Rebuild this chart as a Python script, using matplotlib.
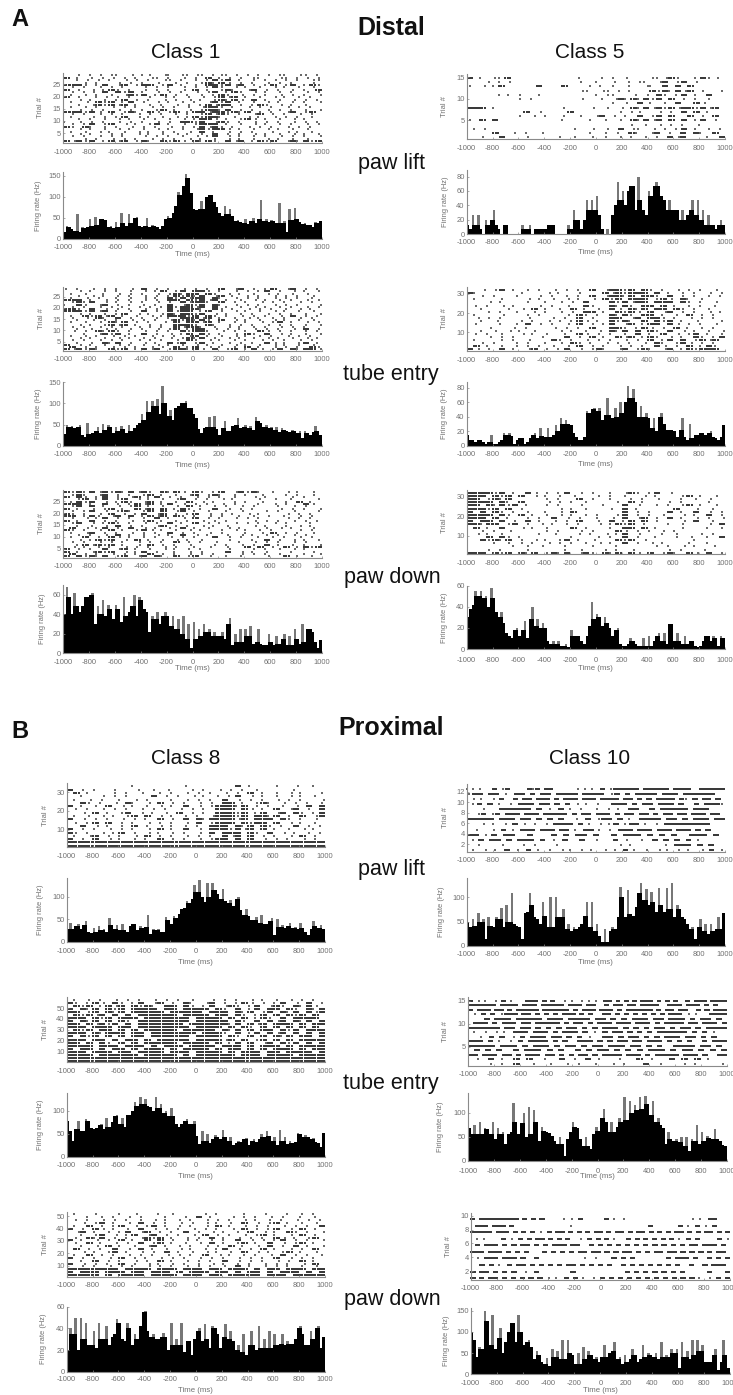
import numpy as np
import matplotlib
matplotlib.use("Agg")
import matplotlib.pyplot as plt

plt.rcParams['font.family'] = ['Liberation Sans', 'DejaVu Sans']
plt.rcParams['axes.unicode_minus'] = False

W, H = 733, 1395
EDGES = np.arange(-1000, 1000, 20)
X_TICKS = [-1000, -800, -600, -400, -200, 0, 200, 400, 600, 800, 1000]

# ---- firing rate (Hz), 20 ms bins ----
H_A1_LIFT = [15,30,28,22,18,58,15,28,25,28, 48,30,52,32,48,48,45,28,30,25, 40,28,62,38,30,58,38,50,52,30,
             28,30,50,28,32,30,28,22,30,48, 55,50,62,78,112,105,125,155,145,110, 70,68,70,90,70,100,105,105,88,75,
             62,55,78,60,70,55,42,45,40,38, 48,35,42,50,38,48,92,42,48,40, 45,42,38,85,38,42,15,70,45,72,
             48,40,35,38,32,32,28,40,38,42]
H_A5_LIFT = [13,7,27,13,27,7,0,20,13,20, 33,13,7,0,13,13,0,0,0,0, 0,13,7,7,13,0,7,7,7,7,
             7,13,13,13,0,0,0,0,0,13, 7,33,20,20,7,20,47,33,47,33, 53,27,7,0,7,0,27,40,73,47,
             60,40,60,67,67,33,80,47,33,27, 60,53,67,73,67,53,47,33,47,33, 33,33,20,33,20,27,33,47,27,47,
             20,33,13,27,13,13,7,13,20,13]
H_A1_TUBE = [28,50,45,48,42,45,50,25,22,55, 28,30,35,45,30,52,38,50,45,30, 45,35,48,40,30,50,35,42,50,55,
             75,60,105,80,105,95,110,75,140,100, 70,85,60,90,95,100,100,105,90,90, 75,65,40,30,42,45,68,45,70,40,
             25,42,58,35,35,48,50,65,42,45, 50,42,48,38,68,58,55,45,50,42, 45,38,45,32,42,38,36,32,38,35,
             30,35,18,35,30,25,32,48,35,25]
H_A5_TUBE = [15,8,8,5,8,8,5,3,5,15, 3,3,5,8,17,15,17,13,3,8, 10,10,3,5,10,15,18,10,25,13,
             12,25,12,15,28,20,38,30,35,30, 28,18,12,8,8,12,48,45,50,52, 48,52,35,42,65,42,38,52,40,60,
             45,60,82,65,78,60,40,55,40,45, 38,25,38,20,40,45,30,22,22,22, 20,12,22,38,12,8,30,10,15,15,
             18,18,15,18,20,12,10,8,12,28]
H_A1_DOWN = [40,68,58,40,62,48,42,48,58,58, 60,62,30,48,40,55,38,50,45,35, 50,45,32,58,38,42,48,60,38,58,
             55,45,42,22,38,35,42,30,38,42, 38,28,38,25,35,20,38,15,30,5, 32,15,25,18,30,22,25,18,22,18,
             18,22,15,30,36,8,20,12,25,12, 25,18,28,10,12,25,10,8,8,20, 12,8,18,10,15,20,8,18,8,25,
             15,10,30,12,25,25,22,12,5,14]
H_A5_DOWN = [30,38,42,55,50,55,48,50,40,58, 48,35,30,35,25,15,12,10,18,20, 12,18,27,10,28,40,22,28,20,25,
             20,8,5,8,5,8,3,3,5,2, 18,12,12,12,8,5,12,22,45,28, 33,30,22,30,25,20,12,18,20,5,
             3,3,5,10,8,5,3,3,10,3, 12,3,8,12,15,8,15,5,24,24, 8,15,8,5,12,5,8,8,3,2,
             3,8,12,12,8,12,10,3,12,10]
H_B8_LIFT = [28,42,28,35,40,28,38,45,22,20, 30,22,35,25,28,22,52,38,28,38, 25,40,25,22,35,40,40,25,35,30,
             32,60,18,28,25,28,22,22,55,48, 40,58,52,62,72,75,90,85,95,125, 110,138,100,88,130,100,130,115,105,95,
             118,90,85,92,80,95,100,70,60,72, 58,48,48,55,42,60,40,40,45,52, 15,50,32,38,30,35,42,30,32,28,
             42,30,22,15,28,45,35,30,38,28]
H_B10_LIFT = [50,40,55,42,68,50,55,15,60,42, 38,60,55,78,40,85,50,108,45,42, 38,15,68,70,108,85,60,55,45,90,
              62,40,100,40,100,60,60,75,35,45, 30,40,35,40,45,62,90,40,90,30, 45,20,8,35,8,30,40,35,60,122,
              100,60,115,65,62,80,108,130,95,118, 85,110,90,70,120,85,70,120,75,130, 60,85,75,60,55,45,35,38,15,38,
              55,30,45,25,45,30,35,60,35,68]
H_B8_TUBE = [78,55,35,60,78,55,55,82,78,62, 60,62,68,72,60,85,65,75,88,90, 72,85,65,90,90,100,118,110,130,115,
             125,110,108,100,130,105,115,95,100,88, 105,88,70,65,70,78,82,72,70,78, 45,28,55,35,50,30,38,48,42,38,
             58,42,35,42,25,30,35,32,38,40, 25,35,38,32,38,50,42,55,45,35, 42,25,58,35,42,28,35,30,32,52,
             50,42,48,42,38,40,32,30,22,52]
H_B10_TUBE = [68,55,75,55,80,55,68,65,55,80, 45,68,55,60,35,55,60,120,80,55, 78,100,50,112,55,105,80,40,70,62,
              60,58,52,40,35,50,35,10,45,60, 80,70,68,45,30,50,30,25,55,70, 62,88,108,80,60,80,60,70,88,80,
              132,85,125,100,115,105,132,108,135,118, 95,125,80,88,75,68,35,60,45,40, 45,38,50,30,50,20,45,40,75,35,
              60,40,52,48,45,65,45,40,32,30]
H_B8_DOWN = [20,40,35,50,20,50,30,45,25,25, 38,22,45,30,30,42,25,32,35,49, 45,30,28,45,40,25,35,30,42,55,
             56,38,32,35,30,30,32,36,32,20, 45,25,30,25,45,18,28,28,15,30, 38,40,28,44,30,22,42,40,35,22,
             32,44,30,38,28,20,25,18,35,15, 25,38,25,20,42,22,30,22,38,22, 35,25,26,35,25,28,26,26,30,40,
             42,35,25,25,38,30,40,42,22,32]
H_B10_DOWN = [100,80,40,65,60,150,125,70,140,60, 85,110,50,75,100,120,120,75,140,100, 70,75,80,65,35,55,45,30,25,38,
              20,60,40,55,35,80,35,80,50,45, 25,50,25,65,35,55,45,35,40,30, 40,70,40,50,55,75,35,40,25,45,
              30,35,60,45,30,35,70,40,50,45, 40,50,35,75,40,45,40,60,50,60, 15,75,40,55,35,80,45,80,55,70,
              30,30,30,45,60,10,30,80,45,15]

# ---- rasters: one string per trial row (top first), each char is a time cell;
#      '.' none, 1/2/3 one spike early/mid/late in the cell, '#' a burst ----
R_A1_LIFT = [
"..2.13.21.3.12.31.2132.1213.2.13.21.32.1","#.1.2.13.2.1.32.1.3.2.#.13.2.21..32.13.2",
"..13.2.1.3.2.1.32.1.2.1#2#.1.2.13.2.1.32","...2.1..3.2.1.3..2.1.2#1#3.2.1.3.2.1..3.",
"###2.1#.3#.2##.2#.1.2.##2#3#.2.1#.2#.1#2",".2.1.3.2.1..3.2.1.3.2.1#2.3.1.2.3.1.2.3.",
"#.2.3.1#2.1.3.2.1.3.#.1.2#1.3#.2.1.2.1.#",".2.13.#.#2#.1.3.2.1.3.2#.1#2.3.1.2.1.3.2",
".1.2.1.2.3#2#.1#.2.1.2.1#2.3.2.1.3.2.1.3","#.2..13.2.1..2.3.1.2.3.2#3#.1.2.3.1.2.1.",
"..3.1.2.1#.2.1.3.2.3.1.2#1#3.#.1.2.3.2.1",".1.3.#2#.1#.2.3.1.2.1.3#2#.1.2.3.1.2.1.3",
"..2.3#2#3#.1.2.1.3.2.1#3##.2.1#2.3.1.2..",".1.2.1.3.2.1.3.2.1.2.3##2.1.3.2.1.3.2.1.",
"..3.2.1.3.2.1.2#.1.3.2##1#.2.1.3.2.1.2.3","###2#3.#.2#1.#3.2#.1##3##2#1#.2.1.3#.2#.",
".2.1.3.2.1.3.2.1.2.1.2#3#2.1.3#.2.1.3.2.",".1..3.2.1#.3.1.2.3.1#2##1.2.3.1.3.2.1.2.",
"..2.1.2.3.1.2.1.2.3.1##3.1.2#3.1.2.3.1..","1.3.2.1.3.2.1.3.2.##2#.3#2.1.3.2.1.3.2.1",
".2.1#.2#.3.1.2#.1.3.2###.1.2.3.1.2.1.3.2","#2.#1.2.1.3.2.1.3.2.1#3#2.1.3.2.1.3.2.1.",
"..3.1.2.3.1.2.3.1.2.3#2##3.1.2.3.1.2.3..",".1.2.3.1.2.3.1.2.1.3.#.1.3.2.1..2.3.1.2.",
"..3.1..2.1.3.1.2.3.1.2.#.2.1.3.1.2.3.1.2",".2.1.3.2.1..3.2.1.2.3.1#.3.1.2.1.3.2.1.3",
"...2.1.3.2.1.3.2.1.3.1.2.3.1.2.3.1.2.3..","#3#2#.1#3#.2#1.#2#3.#1#2.#3#.1#2#.3#1#2#"]
R_A5_LIFT = [
"#.1.21#..........3...2.1.2...213#2..1#23.","...2.13...........1.2..2.3.21.3#.2#.2....",
"2.3.1#.....#...#...2.1.1.3..31.#.#.#.....","..................21.32.13...#2#1#3#.2..2",
".....12.2..2........2.21..3.3.#2.1#.1.#..","........2.1.......2..2.3#1#1#2#.#.2.1.2..",
".......................1.2.#.1.2.#..#3...","###.1..........2....1.2.3.#1#3#2#3##2#3#.",
".........#.3....#.......2.12..3.2.#.#.1..","........2.3.2..2..1.3#.2.1.#.2#.#..#.2.#.",
"2.#.#..........1...2..1.2.#1#3#.#.#.1#.2.","..........................1.2.3.2.1.3....",
".13..............1..1.2.#.21.3.2.1#.1.2.1","....#..2.1.3.......1.2.2.#1.3#.2.#.#1.#.",
"..2..#...2....2.3..2.2.3.2.3.2.#3#...1.#"]
R_A1_TUBE = [
"2.1.3.2.1.3.#.2.1.3.2.1.#.3#.2.1#.3#.2.1","..3.1.2.1.2.3.1#.2#.##2.1.3.2.1#.2.3.1.2",
".1.2..1.3.2.1.3.2#1##.#2.3.1.2.3.1.2.3..","..2.3.1.2.1.3.2.1#2#1#.3#.1.2.1.3.2.1.3.",
".1.3.2..1.2.3.1.#2#3##.#1.3.2.1.3.2.1.2.","###.1.3.2.1.3.2.##.#2#3#.1.2.3.1.2.1.3.2",
".2#1#.3.1.2.1.3.2.#3##1.#.2.1.3.2.1.3.2.","1.#2.3#.2.1.2.1.#.3#2#.#1.3.2.1.3.2.1..3",
".2.1.3.2.1.3.2.1#2##3#.#.1.2.3.1.2.1.3.2","##2.#.3.2.1.3.2.#.###1.#2.1.3.2.1.2.3.1.",
"###2#3#.1.2.#.2.#3##.1#.2.3.1.2.3.1.2.3.","..3.1.2.1#.3.1.2#1##2#.3.1.2.1.3.2.1.2.3",
".1.#2#3#.1.2.3.1###2#.#2.1.3.2.1.3.#.2.1",".2.3.#1.#.2.1.2.1.###3#.1.2.3.1.2.1.3.2.",
"..1.3.2.1.3.2.1.3#2#1#2.#.3.1.2.3.1.2.3.",".1.2.3.#1#.2.1.3.#.##3#.1.2.1.3.2#.1.3.2",
"..3.1.2#3#.1.2.1.###2.#1.3.2.1.3.2.1.2.3",".2.1.3.2.1.3.2.1.#3##1.2.3.1.2.1.3.2.1..",
"..1.2.3.1.2.1.3.2#.1##.3.2.1.3.2.1.3.#.2",".3.2.#1#2.1.3.2.1.#2##1.3.2.1.#3.2.1.2.1",
"...1.3#2#.1.#.2.3.1#.#2.1.3.#2.#.3.1.2.3",".1.2.1.3.2.1.3.2.1.3#.1.2.3.1.2.1.3.2.1.",
"..3.1.2.3.1.2.1.3.2#1#.2.3.1.2.3.1.2.3.1",".2.1.3.2.1.3.2.1.3.#2.3.1.2.1.3.2.1.3.2.",
"..1.2.#1#.2.3.1.#3#.2#.1.3.2.1.#3.1.2#.1","#.3.1.2.3.1.2.3.1.2.3.1.2.3.1.2.3.1.2.3.",
".#.2.1.3.2.1.3.2.#.1#.3.1.2.#.1.3.2.1.#2","#3#2#1.#2#.1#3#.2##1#3.#.2#.1#3.2#.#1##3"]
R_A5_TUBE = [
"..3.2#.1.2.1.3.2.1.#.3##2#.#2.1.3.2.1.3.","#1......2...3.1..2...#3#2###.#.1.2.1.3.2",
"..2.1..3...2.1.2.1.#.3##1#.##2.#.2.1.2.1",".1...2...3.1.2.3.1.3.#2#.###.2#3.#1.2...",
"...3.1...2..1.3.2.#...#2#3##.###.#2.1.3.",".2.1.3.1...2.1.3..#2..#1#2.##.#.1.2.1.2.",
"..1...2.3.#.1.2.#.1.2.#3.#1#.##.#2.1.2..","...2.1.3..2.1.3.2.##.1.#2#3.#.3#.2.1.3.1",
".1...3...2.1...3.#2.1.#1#2.##.1.2.#.2.1.",".3.2.1...3...2.1.#.2..##.3#.##2.1.3.2.1.",
"..1.3...2.1.3.2.1#3.1.#2#1.#.#2#.1.3...2",".2...1.3.#.2.1.3.#.2.1#.3#.1##.#3.2.1.3.",
"...3...2.1...3.2.1.#..##2.1#3.2.#.1.2.1.","..1.2.3.1.2...3.1.2.3.#1#.#.#2.#.3.1.2.3",
".2.1.2..3.1.2..1.#3.2.1.2.#.1.#.3.2#.1.2","...3.2.1...3...#.2.#.1.#3#.1#2.3.1.#2.1#",
".1...2.1.3...#2.1.3.2.1.3.2.#.1#.#.2#3#.","..2.1..3.2..1.3.#2.1.3.2.1.3.#1.2#3.2.1.",
".#.1.2.3.2.1.2.3.#.2.1.3.2.1.#3.2.#.1#2.","#3.2.#.1.3#.2.1#.3.2#1.3#.2#1.3#.1#2###."]
R_A1_DOWN = [
"#2#1#3#2#1#3#2.#1#3.#2.1#.3#2#1.2.3.1.3.",".2#1.3#.2.1.2#.1.2.3#.2#1.2.1.3...2.1.3.",
"#.#2.1#.2.3#.1#.2.1.3.2.1.2..3.1...2.1..","..2#.1#.2#.3.1.2.3#.2.1.3.1...2.3..1...2",
".1#2#.3.1#2.3#.1.2.#.3.1..2.1.3...2.#.1.","###.1.#.2.1#3#.1#.3.2.1.3.2...1.3.2..#3.",
".2#.#.1.3.2#.1.2.3.#.1.2.1.3.2...1.3.2..","#.1.3.2#.1.#3#.#.1#2.1.#.3.2.1...3.2.1.3",
".2.1#.3.2#1.2#.#.3#.1.2..1.3...2.1.3...2","#2.1.3.#.2.1#.3#.2.1#.3.2.1.3.1...3.2.1.",
"##.1#2.3#.#.1#3#.#2.1.3.2..1.2.3..1.3.2.",".2.3.1#.2.1.2.#.1.3.#.2.1.3.2.1...3.2.1.",
"#.1.#.2.1.3.2#.1.2.1.3.2.1...3.2.1.3.2.1",".2#.3.1#2.1.3.2.#.1.#.2.1.3.2.1.3.2...1.",
"..1.2.3.#.2.1.3#.2.1.3.1.2...3.1..2.3.1.",".#.3.1#.2.#.3.1.2.#.1.2..3.1...2.3.1..3.",
"#2.1.3.#.1.2#3.1.2.3.1..2.3.1.2.1...3.2.",".1.3#.2.1.3.2.1.#.2.1.3.2...1.3.#.2.1.3.",
"..2.1.3.#.1.2.3.1.#.3.1..2.3.1.2.1.3.2..",".1.#.2.#3.1.2.1.3.2.1..#.3.2..1.2.1.3.2.",
"..3.1#2#.3.#.1.2.3.1.2...3...1.#.2.3.1.2",".2.1.3.2.1.3.2.1.#.2.1.3...1.3.2.1.3.2..",
"..1#3#2#.1.3.#.2.1.3...2.1.3.2.#.1.2.1.3",".3.1.2.1.3.2.1.3.2..1.3..2..#.#.2.#.1#2#",
"#.2.1.#.3#.1.2.3.1.2.1...3...2.1.2.3.1..","#.1.3#2#.3.1#.2..1.3.2...#.3.1.2...1..3.",
".#.2.1.3.2.1.#.2.1.3.2.1...3.2.1.2...1.3","#.#2#1#.2#.3#.#1.#.2#.3..1.2...3..#.1.2."]
R_A5_DOWN = [
"####2#.1.#3.2.1#.3.2..1.3#2.1#.3........","###.#2#.#.3.1.2.3...2.1.2..3.1...2#.1.3.",
"##.2#1#.....2.1..#.2..1..2.1.3...1.2.3..","####.#1.#...3.2.1.2....2.#.1...2.1...2..",
"##.#1#2#.1..2.1..3...1..#.3..2.1.2#.1.3.","###2#.#.2.....3.1.2...2.#.1.....#..3..1.",
"#.#.#2.1.2..1.3.#.......#.2.1..#.1.#.3.2","####.#2.#.1.2.3.1.2.1..2#.2.1.2..3.1.#.2",
"###.#.1..2.1.#.3.2..1.3.#.3#.2.#.1.3.2.3","#.##.#.2.#.1.3.2.#..2.#.1#.#.2...3.#..1.",
"##1##.2#.2.3.1.2.1..3.1#2#.2...1.2...3.#",".#.1.#..3.1.2...#.2...1.##.#.1...2...1.2",
"..2.1.3.....2.1..3.2...#3.2.1.2.1.......",".3.1.2.....1.3...2.1.3.1#.3...1.2...2.1.",
"...#.#2.1.......1...2.1.#.2..1..2.3..1.#","..#2#1#.2.3.1.2#.1.3...#2#.3.......1....",
"....1.2.2.1.3.2.1.2.3.1.#.2.3.1...2..1..",".......1.2.3...1...2...1.....2.1.3.1..2.",
"...2.1...2.....1.3...2.1.3.....2.1..3...","###.#2#.#1#.2#1#.3#2.#1#.#3.#.2#1.#3.#.2"]
R_B8_LIFT = [
"..........1.......2.......#.1...2..3..1.","#.2.1..2...1.2.3...2.1.3.2.1.2.....1....",
".#.1...2.1.3..2.1.3.2.1.3.2.#.1.2.3.1..2","..1..3.2.1...#.2.1.3.1.2.1#.3.1.2.3.1.2.",
".1.3.2..1.3.2...1.3.2.1.#.3.2.1.3.2.1..3","..#2.1.3.#1.3.#.2.1.3.2.##.1.2#1.3.2.1.2",
"#.1.2.#.3.1.2.3.1.#.3.2###1#.2.1.2.3.#.#",".2.1.3.2.1.3.2.1.3.2.1.###.#3.1.#.3#.2.#",
"..3.#.1.2#.3.1.2.#.2.1.###2#.1#.3#.#2.1#",".1.2.3.1.2#.#.3.1.2.1.3###2#.##1#.2.#.3#",
"#.3.2.1.3.2.1.#.2.#.#1####3#.###.#2.1.3.",".2.1#.#.2.1.3.2.1.3.#.2###.#2##.#.3.1.2.",
"..#.3.1.2.#.2.3.1.2.1.###.#1#.#2.1.#.2.1","#.2.1.3.2.1.3.#.1.#.3.###2#3#.#.1.2.3.1.",
"#2.1.3.1#.2.3.1.2.1.3.#.###.#2.#.3.1.2.1",".1.3#.2.1.3.#.2.1.3.2.1.#3#.#.2.1.3.#.2.",
"#.2.#.3.1.2.1.#.2.1.3.2##.#.#.3.2.1.3.2.","########################################",
"########################################"]
R_B10_LIFT = [
"12.1..#.2#....#2#.##.....3.2.1.#.2######.######.####..######",
"2##.##.2.##.#.##.####.####.2#.#.####.###.######..",
".2.1.3.#..#.##.###.#.###.###.####.##.#.#.####.#2.#.##.#.",
".1#.#.1.2.###.##.#.#.2.1.2..###.#.##.###.#..#.###2",
"...1..######.#.2.#.1.1..1.2.1.##..#.#####.###...",
"..2#.2#.###.###.#####.#.##.###.#.##.##.#.##.##.###.##.",
"#####.###.##.#.#.#..2.#.2##.#.1.####.##.#.###.##",
"...2.1.3.#.2.2.3.####.#.1.2.1#.1##.1.2.#########...",
"..1..2.#.2.###.###.##.1.##.1.2.###.###.###.###.#.#...",
"##.1#.##..#...#.#.##.#..#.###.#.#.#..###.#.",
".1#.##.#.###.#.2.#..#..1..#.2..1.#.#.#.#.1....",
"..1...2...1.1...1..........2.1.....2.###.#.#..",
".1.2.1.#.2.#.1.2.3.1.2.1.3.2.#.1.2.3.1.2.1.3.#.2"]
R_B8_TUBE = [
".1.2.1.3.2.1.3.2.1.2..3.2.1.3.1.2.3.2.1.","#2.1#3.#2.1#.3#.2.#1.3#.2.1#3.2.1#.3.#.2",
".#2#.1#3#.#2#1.##.#2.1#.3#2.1#.3#2.#1#3.","#.#1#.#2#.####.##.####.#2.#.1#.##.#2.#1#",
"##.2#.#1#.#####.#####.###.#1#.2#.#1#.#3#",".#2#3#.#.#.######.####.##.#2.1#.#.#2#.#.",
"###.#2#.###.#######.####.#.#.1#2.#.####.","#.#1#.#.#2.########.#####.#2.#.#3#.#1#.#",
"##.#3#2#.#.#######.######1#.#3#.###.#.##","###.###.##.########.####.#.#2.#.#.#.#.#.",
".#2#.##.#.#.#####.#####.#1#.#.##.#2#.###","###.#1###.##.#######.###2.#.1#.#3#.#.#.#",
"#.#2#.#.#.##.######.####.#2.#.#.#1#.##.#","###.##.#.##.#.#####.####3#.#.2#.#.#.####",
"##.#.#2.#.#.#####.####.#.1#.#.3#.#2#.#.#","####.###.###.#.###.####.###.#.###.#.####",
"#.##.#.##.#.###.#.####.#.##.#.#.###.#.##","###.###.##.####.###.####.#.###.##.####.#",
"####.######.#####.#.######.###.####.####","########################################",
"########################################"]
R_B10_TUBE = [
"#.2.1.3.#.2...###.#.#..2.1.3.2.1.##.#.#.#.###.#.#.#..#.###.####",
"######.####.###.#####.###.##..#.##.##.####..###.###.#.#..",
"#.###.##.#.#####.######.#.###.###.#.######.#.##.##..#.#.###",
".2.#.#.2###.##.#.#.#.###.#.#..##.#.#.#.#.#.#.###.2.1..####",
"...#.###.#####.###.####.##.#.#.###.##.###.#.##.#.",
".###.#.###.##.#####.#.##.#.###.###.###.#.####.##.###.#",
"######.##.##.#.#.#.##.#.#.###.#.#.#.##.#.##.#.####",
".1.2.3.1.###.###.#.###.#.2.#.##.#.#.#.######.#.#.2..",
"..2.#.#.3.#.###.##.#.#.2..##.#.##.#.#.###.##.#.#..",
"###.#.1.2.#.####.#.#..###.#.#.##.##.###.#.#.#..#.###",
"#####.###.#.###.#.##.#.##.###.##.#.#..####.##.#.",
".#.#.#..#.###.#.#..#.#.##.#.#.#.###.#.##.#.#.#",
"##.###.##.#.###.##.#.#.##.#.####.###.#.#####.###.#..##",
".2.#.1.#.#.3..#.2.#.1..2..#.2..#.#.#.1..",
"...2.1.#..1.3..2.1.3..2.1..#.3...2.1...2"]
R_B8_DOWN = [
".1..2...1.3...1.2....2.1...2..3...1.2.1.","...1.2.1.3.2...1..2.#.1..3.2.1.3.2..1.2.",
".2.1.3.2.1.2.3.1.2.1.3.2.1.3.1.2.1.3.2.1","..3.2#.1.3.#.2.1.3.2.3.1.2.#.3.2#.1.2.3.",
".1.#.2.1#.3.2#.1.2.1.3.#.1.3.2.1.3.2.1.#","#.2.#3.1.2.#.3.2.1.3.2.1.3.#.2.1#.3.#.2.",
".3#.1.2.1#.3#.2.1.#.2.3.1.2.#.3.1.#2.1.3","..1.2#.3.1#.3#.2.1.3.#.2.1.3.2#.1.3.#.2.",
".2.#1#.2.1.3#2#.1.3.2.#.1.3.2.1.#3.1.2#.","#.1.3.2.#.1.#.#.2.3.1.2.1.#.3.2.1#.2.1.3",
".2.#.1.3.2.#.2#.1.2.3.#.1.2#.1.#.3.2#.1.","..1.3.#.1.2.3#.1.2.1.3.2.#.1.3.#.2.#.1.3",
".#.2.1.#.3.#.1.2.3.1.2.1#.3.2.#.1.3.2.#.","..3.1.2#.1.3.2.#.1.2.3.1.2.#.3.1.2#.1.3.",
".1.#.2.1.3.2.1.3.2.1.#.3.1.2.1.3.#.2.1.2","#.2.1.3.#.2.1.3.2.1.3.2.1.3.2.1.#.3.2.1.",
"..1.#.2.1.3.2.#.1.3.2.1.#.3.2.1.3.2.#.1.","#.3.2.1.#.2.3.1.2.1.2.3.1.2.1.3.2.1.3.#.",
"..2.1.3.2.1.3.2.1.3.2.1.2.#.1.3.2.1.2.3.","########.####.###.###.##.###.#.##.###.##",
"#.###.###.##.###.#.###.##.#.##.#.###.#.#","#####.#.####.####.###.##.#####.###.#####"]
R_B10_DOWN = [
"#.#########.#.#.#....2.2.#.....#.1.2...............2.1.##...",
".###.###.#.............1.................#......#.1.#.2.#...",
"#####.###.#.#.#.2.#.##.#.#.#.##.#.##.#.##.#.#.#.##.#.#.##.#.#",
".2.1...#.2.#.#.##.#.#.#..2.#.#.#.1..#.#.#.#.#.#.1.#.#....#.2",
".#.###.#.#.##.#.#.###.##..#.#.#.#.#.#.#.#.#.#.#.##.###.#.",
"###.###.#.#.#...#.#.#.#.##.##.#.#.##.#.#.##.##.#.#.#.#.##.",
".2.###.###.#..#..........1.2...#.#.#.......#.###.#..#.#.#",
"..#.#.1.#.##.#.#.#.#.##.#.#.#.#..#.#.#.#.#.#.#..#..#.###.",
"#.##.#.#.#..1.#.......#...........#.#.#.#.#.#.#.....#...#",
"#.#.##.#.#.#.#.#.2.1.#.#.1.2.#.#.#.#.#.#.#.#.#.#.#.1.2.#.#"]

# ---- panel layout in reference pixels ----
def box(l, t, r, b):
    return (l, t, r, b)

PANELS = [
 # raster, raster ylim, yticks, box | hist values, ylim, yticks, box | tick label y, time label y, ylabel x
 (R_A1_LIFT, (1, 29.6), [5,10,15,20,25], box(63,73,322,143), H_A1_LIFT, 159, [0,50,100,150], box(63,172,322,238.7), 247, 255, 44, 42),
 (R_A5_LIFT, (0.55, 15.8), [5,10,15], box(466.7,74,725,139), H_A5_LIFT, 89, [0,20,40,60,80], box(466.7,170,725,234.3), 242, 252, 447.7, 449),
 (R_A1_TUBE, (1, 29.3), [5,10,15,20,25], box(63,287,322,350.7), H_A1_TUBE, 151, [0,50,100,150], box(63,381.7,322,446), 454, 466, 45, 42),
 (R_A5_TUBE, (0.3, 33.6), [10,20,30], box(466.7,287,725,351), H_A5_TUBE, 88, [0,20,40,60,80], box(466.7,381.7,725,445.7), 454, 464, 447.7, 448),
 (R_A1_DOWN, (1, 29.8), [5,10,15,20,25], box(63,490,322,558), H_A1_DOWN, 70, [0,20,40,60], box(63,585,322,653.3), 662, 668, 45, 46),
 (R_A5_DOWN, (0.4, 33.4), [10,20,30], box(466.7,490,725,554.3), H_A5_DOWN, 60, [0,20,40,60], box(466.7,585.7,725,649), 660, 668, 447.7, 448),
 (R_B8_LIFT, (0.5, 34.7), [10,20,30], box(66.7,783.3,325,847.3), H_B8_LIFT, 141, [0,50,100], box(66.7,878.3,325,941.7), 950.7, 962, 49, 44),
 (R_B10_LIFT, (0.53, 13.5), [2,4,6,8,10,12], box(466.7,784,725,851.7), H_B10_LIFT, 139, [0,50,100], box(466.7,878.3,725,946), 954, 963, 449, 445),
 (R_B8_TUBE, (0, 60), [10,20,30,40,50], box(66.7,997.3,325,1062.3), H_B8_TUBE, 139, [0,50,100], box(66.7,1092.7,325,1156.7), 1165, 1176, 49, 44),
 (R_B10_TUBE, (0.8, 15.9), [5,10,15], box(468.3,996.7,726.7,1065.7), H_B10_TUBE, 140, [0,50,100], box(468.3,1093.3,726.7,1160.7), 1170.7, 1176.7, 449, 444),
 (R_B8_DOWN, (1, 53.5), [10,20,30,40,50], box(66.7,1211.7,325,1276.7), H_B8_DOWN, 60, [0,20,40,60], box(66.7,1306.7,325,1371.7), 1379, 1390, 49, 47),
 (R_B10_DOWN, (0.7, 10.4), [2,4,6,8,10], box(470.7,1213,730,1280), H_B10_DOWN, 156, [0,50,100,150], box(470.7,1308,730,1374.3), 1383, 1390.7, 452, 450),
]

LABEL_C = '#707070'
SPINE_C = '#8a8a8a'
FS = 5.4

fig = plt.figure(figsize=(W/100, H/100), dpi=100)

def make_axes(b):
    l, t, r, bt = b
    return fig.add_axes([l/W, 1-bt/H, (r-l)/W, (bt-t)/H])

def style(ax, b, tick_y, ylab_x, ylab):
    l, t, r, bt = b
    for s in ('top', 'right'):
        ax.spines[s].set_visible(False)
    for s in ('left', 'bottom'):
        ax.spines[s].set_color(SPINE_C)
        ax.spines[s].set_linewidth(0.8)
    ax.set_xlim(-1000, 1000)
    ax.set_xticks(X_TICKS)
    ax.tick_params(direction='in', length=1.5, width=0.5, color=SPINE_C,
                   labelcolor=LABEL_C, labelsize=FS)
    ax.tick_params(axis='y', pad=1.5)
    ax.tick_params(axis='x', pad=max(0.2, (tick_y-3-bt)*0.72))
    ax.set_ylabel(ylab, fontsize=FS, color=LABEL_C)
    ax.yaxis.set_label_coords((ylab_x-l)/(r-l), 0.5)

def draw_raster(ax, rows, ylim):
    n = len(rows)
    xs, ys, bx, by = [], [], [], []
    for k, row in enumerate(rows):
        y = ylim[1]-0.9*(ylim[1]-ylim[0])/n - k*(ylim[1]-ylim[0])*0.98/n
        w = 2000/len(row)
        for i, ch in enumerate(row):
            x0 = -1000+i*w
            if ch in '123':
                xs.append(x0+w*(int(ch)-0.5)/3); ys.append(y)
            elif ch == '#':
                for f in (0.15, 0.5, 0.85):
                    bx.append(x0+w*f); by.append(y)
    ax.scatter(xs, ys, s=0.8, marker='s', linewidths=0, color='#6a6a6a', clip_on=False)
    ax.scatter(bx, by, s=0.6, marker='s', linewidths=0, color='#3a3a3a', clip_on=False)
    ax.set_ylim(*ylim)

def draw_hist(ax, vals, ymax):
    v = np.array(vals, float)
    prev = np.r_[v[0], v[:-1]]
    nxt = np.r_[v[1:], v[-1]]
    body = np.minimum(v, np.maximum(prev, nxt))
    ax.bar(EDGES, v, width=20, align='edge', color='#777777', linewidth=0)
    ax.bar(EDGES, body, width=20, align='edge', color='black', linewidth=0)
    ax.set_ylim(0, ymax)

for (r, rl, rt, rb, hv, hm, ht, hb, tick_y, time_y, rx, hx) in PANELS:
    a = make_axes(rb)
    draw_raster(a, r, rl)
    a.set_yticks(rt)
    style(a, rb, rb[3]+8.5, rx, 'Trial #')
    a = make_axes(hb)
    draw_hist(a, hv, hm)
    a.set_yticks(ht)
    style(a, hb, tick_y, hx, 'Firing rate (Hz)')
    a.set_xlabel('Time (ms)', fontsize=FS+0.2, color=LABEL_C, va='center')
    a.xaxis.set_label_coords(0.5, -(time_y-hb[3])/(hb[3]-hb[1]))

TEXTS = [
 ('A', 20, 20, 17, 'bold'), ('Distal', 391, 28, 18, 'bold'),
 ('Class 1', 186, 52, 15, 'normal'), ('Class 5', 590, 52, 15, 'normal'),
 ('paw lift', 391, 163, 15.5, 'normal'), ('tube entry', 391, 374, 15.5, 'normal'),
 ('paw down', 392, 577, 15.5, 'normal'),
 ('B', 20, 731, 17, 'bold'), ('Proximal', 391, 728, 18, 'bold'),
 ('Class 8', 186, 759, 15, 'normal'), ('Class 10', 590, 759, 15, 'normal'),
 ('paw lift', 391, 870, 15.5, 'normal'), ('tube entry', 391, 1084, 15.5, 'normal'),
 ('paw down', 392, 1299, 15.5, 'normal'),
]
for s, x, y, fs, wt in TEXTS:
    fig.text(x/W, 1-y/H, s, fontsize=fs, fontweight=wt, ha='center', va='center', color='#111111')

fig.savefig('out.png', dpi=100)
